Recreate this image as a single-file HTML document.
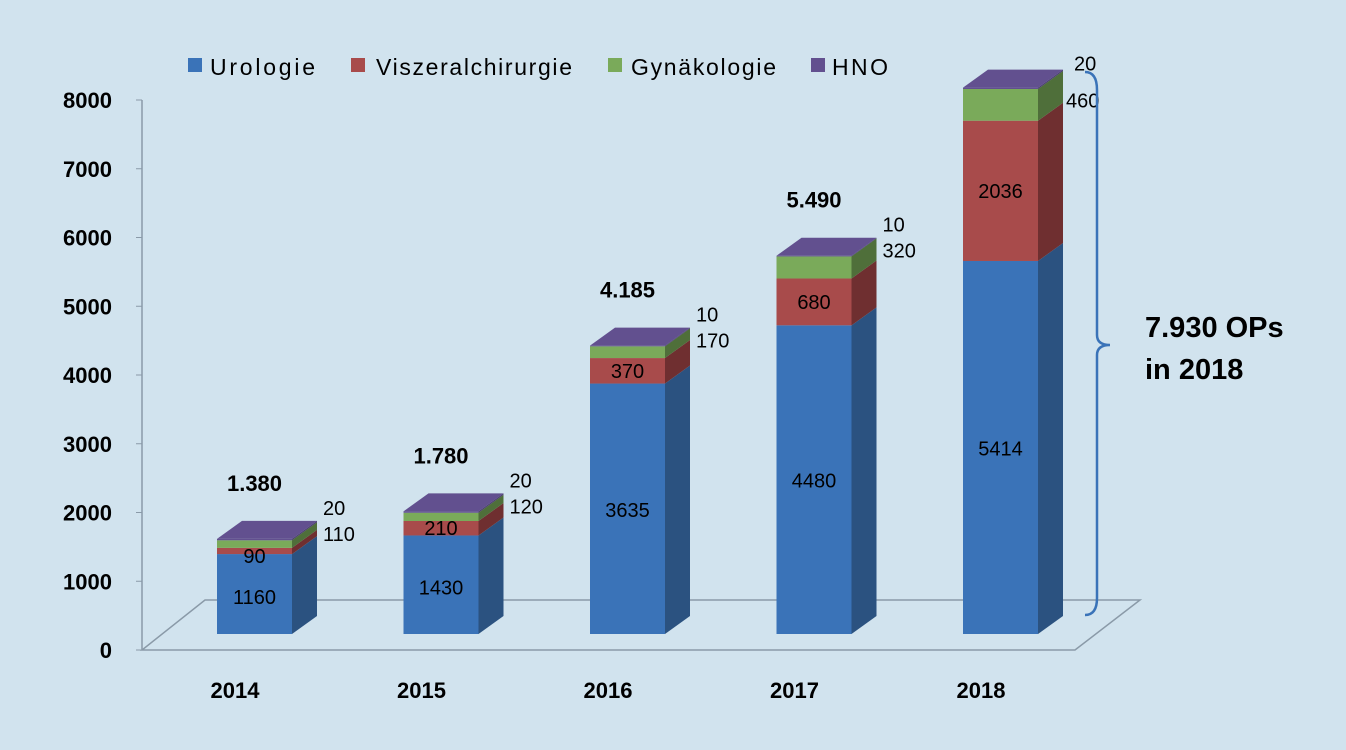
<!DOCTYPE html>
<html><head><meta charset="utf-8"><style>
body{margin:0;background:#d1e3ee;}
svg{display:block;font-family:"Liberation Sans",sans-serif;}
</style></head><body>
<svg id="c" width="1346" height="750">
<rect width="1346" height="750" fill="#d1e3ee"/>
<polygon points="142,650 1075,650 1140,600 205,600" fill="none" stroke="#8a9aa8" stroke-width="1.5"/>
<line x1="142" y1="100" x2="142" y2="650" stroke="#8a9aa8" stroke-width="1.5"/>
<g id="ticks"></g><g id="bars"></g><g id="labels"></g>
<g font-size="23" fill="#000">
<rect x="188" y="58" width="14" height="14" fill="#3a73b8"/><text x="210" y="75" textLength="105">Urologie</text>
<rect x="351" y="58" width="14" height="14" fill="#a84b4b"/><text x="376" y="75" textLength="196">Viszeralchirurgie</text>
<rect x="608" y="58" width="14" height="14" fill="#7aaa5a"/><text x="631" y="75" textLength="145">Gynäkologie</text>
<rect x="811" y="58" width="14" height="14" fill="#62508f"/><text x="832" y="75" textLength="56">HNO</text>
</g>
<path d="M1085,72 Q1097,72 1097,90 L1097,335 Q1097,345 1110,345 Q1097,345 1097,355 L1097,598 Q1097,615 1085,615" fill="none" stroke="#3a73b8" stroke-width="2.5"/>
<text x="1145" y="337" font-size="29" font-weight="bold">7.930 OPs</text>
<text x="1145" y="379" font-size="29" font-weight="bold">in 2018</text>
</svg>
<script>
const categories=["2014","2015","2016","2017","2018"];
const urologie=[1160,1430,3635,4480,5414];
const viszeral=[90,210,370,680,2036];
const gyn=[110,120,170,320,460];
const hno=[20,20,10,10,20];
const totals=["1.380","1.780","4.185","5.490",""];
const yTicks=[0,1000,2000,3000,4000,5000,6000,7000,8000];
const NS="http://www.w3.org/2000/svg";
const yAxis=v=>650-v*550/8000;
const yBar=v=>634-v*0.0689;
const xBar=i=>217+i*186.5;
const W=75,DX=25,DY=-18;
function mk(t,a,p,txt){const e=document.createElementNS(NS,t);for(const k in a)e.setAttribute(k,a[k]);if(txt!==undefined)e.textContent=txt;p.appendChild(e);return e;}
const tg=document.getElementById('ticks'),bg=document.getElementById('bars'),lg=document.getElementById('labels');
yTicks.forEach(v=>{
 const t=mk('text',{x:112,y:yAxis(v)+8,'text-anchor':'end','font-size':22,'font-weight':'bold'},tg,String(v));
 
 
 const l=mk('line',{x1:136,x2:142,y1:yAxis(v),y2:yAxis(v),stroke:'#8a9aa8'},tg);
 
 
});
const series=[[urologie,'#3a73b8','#2b5280','urologie'],[viszeral,'#a84b4b','#6f2f30','viszeral'],[gyn,'#7aaa5a','#4f6f3a','gyn'],[hno,'#62508f','#4a3c6e','hno']];
categories.forEach((c,i)=>{
 const x=xBar(i);let cum=0;
 series.forEach(([arr,col,dk,nm],si)=>{
  const y0=yBar(cum),y1=yBar(cum+arr[i]);cum+=arr[i];
  const f=mk('rect',{x:x,y:y1,width:W,height:Math.max(0.5,y0-y1),fill:col},bg);
  
  
  const s=mk('polygon',{points:`${x+W},${y0} ${x+W+DX},${y0+DY} ${x+W+DX},${y1+DY} ${x+W},${y1}`,fill:dk},bg);
  
  
 });
 const top=yBar(cum);
 const tp=mk('polygon',{points:`${x},${top} ${x+W},${top} ${x+W+DX},${top+DY} ${x+DX},${top+DY}`,fill:'#62508f'},bg);
 
 
 const u=mk('text',{x:x+W/2,y:(yBar(0)+yBar(urologie[i]))/2+8+(i<2?2:0),'text-anchor':'middle','font-size':20},lg,String(urologie[i]));
 
 
 const vy=(yBar(urologie[i])+yBar(urologie[i]+viszeral[i]))/2;
 const v=mk('text',{x:x+W/2,y:vy+7+(viszeral[i]<150?5:0),'text-anchor':'middle','font-size':20},lg,String(viszeral[i]));
 
 
 const gx=x+W+DX+6;
 const g=mk('text',{x:gx-(i==4?3:0),y:top+(i==4?20:2),'font-size':20},lg,String(gyn[i]));
 
 
 const h=mk('text',{x:gx+(i==4?5:0),y:top-(i==4?17:24),'font-size':20},lg,String(hno[i]));
 
 
 if(totals[i]){const t=mk('text',{x:x+W/2,y:top-48,'text-anchor':'middle','font-size':22,'font-weight':'bold'},lg,totals[i]);
 
 }
 const cl=mk('text',{x:x+18,y:698,'text-anchor':'middle','font-size':22,'font-weight':'bold'},lg,c);
 
 
});
</script>
</body></html>
